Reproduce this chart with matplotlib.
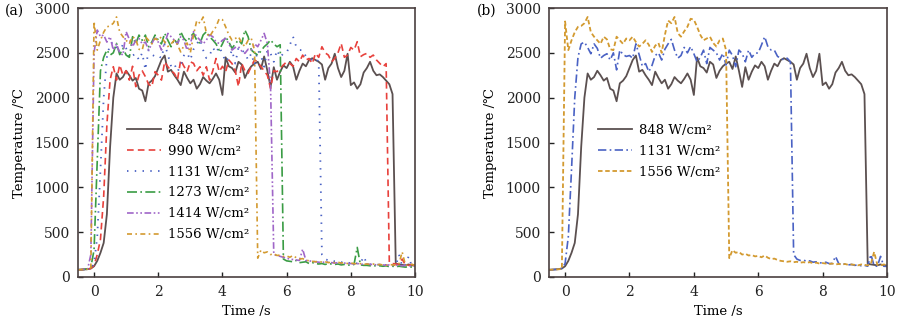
import matplotlib
matplotlib.use("Agg")
import matplotlib.pyplot as plt

# time axis, s (sampling every 0.1 s)
time_s = [-0.5, -0.4, -0.3, -0.2, -0.1, 0.0, 0.1, 0.2, 0.3, 0.4,
          0.5, 0.6, 0.7, 0.8, 0.9, 1.0, 1.1, 1.2, 1.3, 1.4,
          1.5, 1.6, 1.7, 1.8, 1.9, 2.0, 2.1, 2.2, 2.3, 2.4,
          2.5, 2.6, 2.7, 2.8, 2.9, 3.0, 3.1, 3.2, 3.3, 3.4,
          3.5, 3.6, 3.7, 3.8, 3.9, 4.0, 4.1, 4.2, 4.3, 4.4,
          4.5, 4.6, 4.7, 4.8, 4.9, 5.0, 5.1, 5.2, 5.3, 5.4,
          5.5, 5.6, 5.7, 5.8, 5.9, 6.0, 6.1, 6.2, 6.3, 6.4,
          6.5, 6.6, 6.7, 6.8, 6.9, 7.0, 7.1, 7.2, 7.3, 7.4,
          7.5, 7.6, 7.7, 7.8, 7.9, 8.0, 8.1, 8.2, 8.3, 8.4,
          8.5, 8.6, 8.7, 8.8, 8.9, 9.0, 9.1, 9.2, 9.3, 9.4,
          9.5, 9.6, 9.7, 9.8, 9.9, 10.0]

# temperatures, degC
t848 = [80, 82, 85, 88, 95, 120, 180, 270, 380, 700,
        1450, 2000, 2270, 2200, 2230, 2300, 2250, 2190, 2220, 2100,
        2080, 1960, 2160, 2190, 2240, 2330, 2420, 2470, 2290, 2310,
        2250, 2200, 2140, 2290, 2220, 2160, 2200, 2100, 2150, 2230,
        2190, 2160, 2210, 2270, 2200, 2030, 2450, 2350, 2330, 2280,
        2400, 2370, 2220, 2300, 2350, 2380, 2400, 2320, 2460, 2300,
        2120, 2340, 2200, 2290, 2360, 2330, 2400, 2350, 2200, 2300,
        2380, 2350, 2420, 2440, 2420, 2400, 2370, 2200, 2330, 2380,
        2490, 2330, 2230, 2300, 2490, 2140, 2170, 2100, 2150, 2280,
        2330, 2400, 2300, 2250, 2260, 2230, 2190, 2150, 2040, 150,
        140, 135, 130, 140, 130, 128]

t990 = [80, 82, 85, 88, 95, 130, 250, 420, 900, 1700,
        2200, 2345, 2196, 2365, 2250, 2300, 2196, 2350, 2123, 2250,
        2300, 2234, 2150, 2123, 2290, 2250, 2196, 2400, 2345, 2300,
        2271, 2200, 2420, 2350, 2290, 2400, 2383, 2300, 2345, 2250,
        2345, 2196, 2300, 2437, 2290, 2350, 2290, 2420, 2380, 2300,
        2123, 2383, 2300, 2271, 2350, 2420, 2400, 2345, 2300, 2250,
        2103, 2300, 2290, 2330, 2365, 2400, 2383, 2350, 2437, 2400,
        2475, 2420, 2437, 2380, 2494, 2450, 2568, 2500, 2475, 2400,
        2437, 2500, 2605, 2450, 2475, 2560, 2530, 2624, 2457, 2480,
        2494, 2450, 2475, 2420, 2383, 2345, 2380, 160, 150, 145,
        140, 200, 135, 130, 140, 130]

t1131 = [80, 82, 84, 88, 95, 150, 450, 1200, 2000, 2450,
         2600, 2620, 2560, 2490, 2600, 2550, 2440, 2470, 2490, 2420,
         2500, 2310, 2530, 2480, 2460, 2470, 2440, 2600, 2480, 2350,
         2380, 2290, 2360, 2470, 2500, 2420, 2540, 2600, 2650, 2530,
         2440, 2470, 2560, 2500, 2570, 2490, 2400, 2450, 2530, 2380,
         2560, 2530, 2500, 2420, 2494, 2365, 2530, 2470, 2345, 2531,
         2494, 2400, 2531, 2450, 2494, 2500, 2587, 2680, 2568, 2531,
         2530, 2460, 2440, 2420, 2440, 2400, 250, 200, 185, 190,
         175, 180, 165, 170, 160, 155, 165, 150, 150, 230,
         150, 140, 145, 135, 140, 130, 135, 125, 130, 120,
         250, 125, 120, 230, 120, 118]

t1273 = [80, 82, 85, 90, 110, 300, 1300, 2300, 2450, 2531,
         2475, 2500, 2605, 2480, 2550, 2475, 2450, 2680, 2600, 2698,
         2640, 2698, 2568, 2620, 2698, 2643, 2600, 2717, 2640, 2568,
         2650, 2600, 2736, 2660, 2624, 2680, 2717, 2640, 2605, 2700,
         2736, 2680, 2643, 2600, 2531, 2600, 2680, 2620, 2550, 2600,
         2643, 2600, 2754, 2680, 2531, 2500, 2475, 2520, 2568, 2600,
         2643, 2600, 2568, 2590, 200, 180, 175, 170, 185, 160,
         165, 170, 150, 160, 150, 145, 150, 140, 150, 145,
         140, 145, 135, 140, 135, 130, 140, 330, 135, 130,
         130, 125, 130, 120, 125, 120, 125, 115, 120, 115,
         120, 115, 110, 115, 110, 105]

t1414 = [80, 82, 85, 88, 250, 2500, 2754, 2680, 2700, 2620,
         2680, 2531, 2600, 2500, 2475, 2736, 2650, 2568, 2640, 2661,
         2600, 2620, 2531, 2600, 2680, 2620, 2531, 2600, 2717, 2680,
         2643, 2600, 2680, 2640, 2531, 2600, 2736, 2680, 2643, 2600,
         2643, 2700, 2680, 2620, 2605, 2640, 2661, 2600, 2531, 2560,
         2568, 2520, 2494, 2540, 2531, 2600, 2568, 2640, 2717, 2605,
         2123, 250, 240, 230, 220, 210, 200, 195, 190, 185,
         310, 185, 180, 175, 170, 165, 160, 170, 165, 160,
         155, 160, 150, 155, 150, 150, 145, 150, 145, 140,
         145, 140, 140, 135, 140, 135, 130, 135, 130, 130,
         130, 125, 130, 125, 120, 125]

t1556 = [80, 82, 84, 86, 90, 2850, 2530, 2640, 2730, 2790,
         2800, 2830, 2900, 2730, 2680, 2640, 2600, 2680, 2650, 2540,
         2530, 2680, 2640, 2600, 2660, 2640, 2680, 2620, 2570, 2600,
         2640, 2590, 2510, 2580, 2610, 2500, 2700, 2860, 2830, 2900,
         2720, 2680, 2740, 2790, 2880, 2870, 2790, 2700, 2640, 2660,
         2680, 2610, 2570, 2640, 2660, 2530, 210, 300, 270, 280,
         250, 260, 240, 245, 230, 235, 220, 240, 215, 200,
         205, 190, 180, 175, 170, 175, 165, 170, 160, 165,
         160, 165, 155, 160, 150, 155, 150, 145, 150, 140,
         145, 140, 145, 135, 140, 135, 130, 140, 135, 130,
         145, 280, 135, 130, 140, 130]

labels = ["848 W/cm²", "990 W/cm²", "1131 W/cm²",
          "1273 W/cm²", "1414 W/cm²", "1556 W/cm²"]

plt.rcParams['font.family'] = ['DejaVu Serif', 'DejaVu Sans']
plt.rcParams['font.size'] = 9.5

GRAY = '#5b5050'
RED = '#e8413c'
BLUE = '#4a62c4'
GREEN = '#3a9c44'
PURPLE = '#a066c8'
ORANGE = '#d39a30'

fig = plt.figure(figsize=(9, 3.19), dpi=100)
ax1 = fig.add_axes([78 / 900, 1 - 277 / 319, 337 / 900, 269 / 319])
ax2 = fig.add_axes([549 / 900, 1 - 277 / 319, 338 / 900, 269 / 319])

# panel (a)
ax1.plot(time_s, t848, color=GRAY, lw=1.3, label=labels[0])
ax1.plot(time_s, t990, color=RED, lw=1.2, dashes=(4, 2.5), label=labels[1])
ax1.plot(time_s, t1131, color=BLUE, lw=1.3, dashes=(0.8, 3.5), label=labels[2])
ax1.plot(time_s, t1273, color=GREEN, lw=1.2, dashes=(6, 2, 1, 2), label=labels[3])
ax1.plot(time_s, t1414, color=PURPLE, lw=1.2,
         dashes=(4, 1.5, 1, 1.5, 1, 1.5), label=labels[4])
ax1.plot(time_s, t1556, color=ORANGE, lw=1.2, dashes=(3, 2, 1, 2), label=labels[5])

# panel (b)
ax2.plot(time_s, t848, color=GRAY, lw=1.3, label=labels[0])
ax2.plot(time_s, t1131, color=BLUE, lw=1.2, dashes=(5, 2, 1, 2), label=labels[2])
ax2.plot(time_s, t1556, color=ORANGE, lw=1.3, dashes=(2.5, 1.5), label=labels[5])

for ax in (ax1, ax2):
    ax.set_xlim(-0.5, 10)
    ax.set_ylim(0, 3000)
    ax.set_xticks([0, 2, 4, 6, 8, 10])
    ax.set_yticks([0, 500, 1000, 1500, 2000, 2500, 3000])
    ax.tick_params(direction='in', length=3.5, width=1, colors='#222222',
                   pad=6, labelsize=10)
    for s in ax.spines.values():
        s.set_color('#4a4040')
        s.set_linewidth(1.2)
    ax.set_xlabel('Time /s', labelpad=4)
    ax.set_ylabel('Temperature /℃', labelpad=6)
    ax.legend(loc='upper left', bbox_to_anchor=(0.145, 0.57), frameon=False,
              borderpad=0, borderaxespad=0, handlelength=2.6,
              handletextpad=0.5, labelspacing=0.6)

fig.text(5 / 900, 1 - 11 / 319, '(a)', va='center', ha='left', fontsize=10)
fig.text(477 / 900, 1 - 11 / 319, '(b)', va='center', ha='left', fontsize=10)

plt.savefig('out.png', dpi=100)
